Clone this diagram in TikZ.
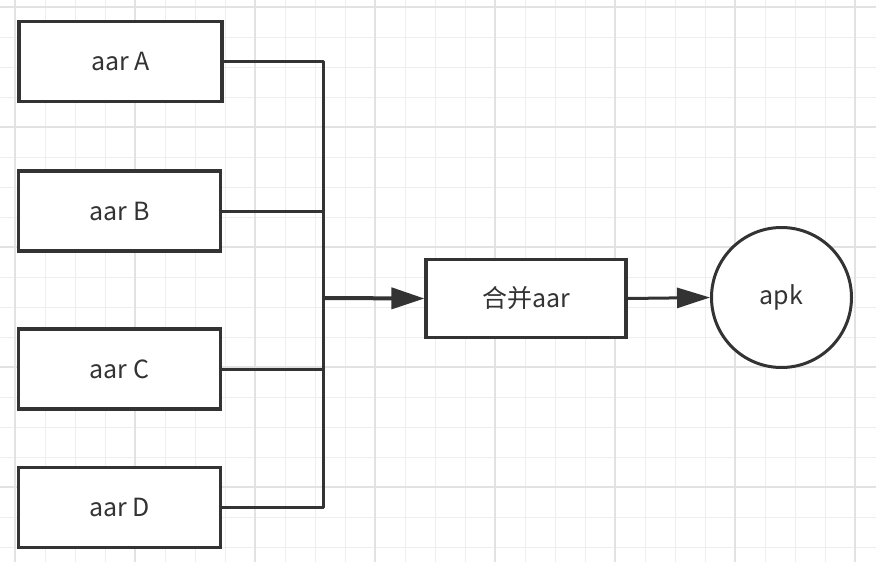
\documentclass[tikz,border=0pt]{standalone}
\usepackage{fontspec}
\setmainfont{Noto Sans CJK SC}
\usetikzlibrary{arrows.meta}
\definecolor{ink}{HTML}{333333}
\definecolor{gridminor}{HTML}{EEEEEE}
\definecolor{gridmajor}{HTML}{E2E2E2}
\tikzset{
  box/.style={draw=ink, line width=3.2pt, fill=white, minimum width=#1, minimum height=80pt, inner sep=0pt, text=ink, font=\fontsize{25}{30}\selectfont},
  box/.default=202pt,
  circ/.style={draw=ink, line width=3pt, fill=white, circle, minimum size=140pt, inner sep=0pt, text=ink, font=\fontsize{25}{30}\selectfont},
  wire/.style={draw=ink, line width=3pt},
  mainarrow/.style={draw=ink, line width=4pt, -{Triangle[length=33pt,width=21pt]}},
  arrow/.style={draw=ink, line width=3pt, -{Triangle[length=33pt,width=20pt]}}
}
\begin{document}
\begin{tikzpicture}[x=1pt,y=-1pt]
\fill[white] (0,0) rectangle (876,562);
\useasboundingbox (0,0) rectangle (876,562);
% grid
\foreach \gx in {15,45,...,875} \draw[gridminor, line width=1pt] (\gx,0) -- (\gx,562);
\foreach \gy in {7,37,...,561} \draw[gridminor, line width=1pt] (0,\gy) -- (876,\gy);
\foreach \gx in {15,135,...,875} \draw[gridmajor, line width=1.3pt] (\gx,0) -- (\gx,562);
\foreach \gy in {7,127,...,561} \draw[gridmajor, line width=1.3pt] (0,\gy) -- (876,\gy);
% nodes
\node[box=203pt] (A) at (120.5,61.5) {aar A};
\node[box] (B) at (119.5,211) {aar B};
\node[box] (C) at (119.5,369) {aar C};
\node[box] (D) at (119.5,507.5) {aar D};
\node[box=200pt, minimum height=78pt] (M) at (526,298.5) {合并aar};
\node[circ] (P) at (781.5,297.5) {apk};
\coordinate (J) at (323,298);
% wires
\draw[wire, line join=round] (A.east) -| (J);
\draw[wire] (B.east) -| (J);
\draw[wire] (C.east) -| (J);
\draw[wire, line join=round] (D.east) -| (J);
\draw[mainarrow] (J) -- (M.west);
\draw[arrow] (M.east) -- (P.west);
\end{tikzpicture}
\end{document}
